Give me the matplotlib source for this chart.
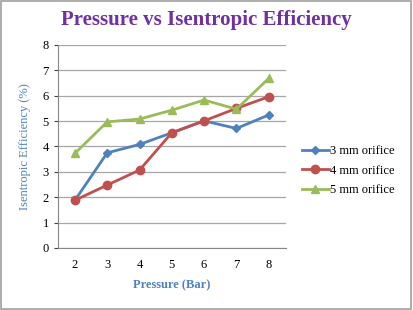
import matplotlib.pyplot as plt

plt.rcParams['font.family'] = ['Liberation Serif', 'DejaVu Serif']

pressure = [2, 3, 4, 5, 6, 7, 8]
eff_3mm = [1.88, 3.75, 4.08, 4.54, 5.01, 4.71, 5.24]
eff_4mm = [1.88, 2.48, 3.07, 4.54, 5.01, 5.50, 5.96]
eff_5mm = [3.73, 4.97, 5.08, 5.43, 5.83, 5.47, 6.68]
labels = ['3 mm orifice', '4 mm orifice', '5 mm orifice']

fig = plt.figure(figsize=(4.13, 3.10), dpi=100)
ax = fig.add_axes([0.140, 0.20, 0.552, 0.655])

ax.plot(pressure, eff_3mm, color='#4F81BD', marker='D', markersize=4, lw=2, label=labels[0])
ax.plot(pressure, eff_4mm, color='#C0504D', marker='o', markersize=6, lw=2, label=labels[1])
ax.plot(pressure, eff_5mm, color='#9BBB59', marker='^', markersize=6, lw=2, label=labels[2])

ax.set_xlim(1.47, 8.53)
ax.set_ylim(0, 8)
ax.set_xticks(pressure)
ax.set_yticks(range(0, 9))
ax.grid(axis='y', color='#A6A6A6', lw=0.9)
ax.set_axisbelow(True)
for s in ['top', 'right']:
    ax.spines[s].set_visible(False)
ax.spines['left'].set_color('#878787')
ax.spines['bottom'].set_color('#878787')
ax.tick_params(axis='both', labelsize=9, colors='#404040', length=3)
ax.tick_params(axis='x', length=0, pad=8)
for lab in ax.get_xticklabels() + ax.get_yticklabels():
    lab.set_color('black')

ax.set_xlabel('Pressure (Bar)', color='#4F81BD', fontsize=9, fontweight='bold', labelpad=6)
ax.set_ylabel('Isentropic Efficiency (%)', color='#4F81BD', fontsize=9, labelpad=8)

fig.text(0.5, 0.935, 'Pressure vs Isentropic Efficiency', color='#7030A0',
         fontsize=15, fontweight='bold', ha='center', va='center')

ax.legend(loc='center left', bbox_to_anchor=(1.02, 0.38), frameon=False,
          fontsize=9, handlelength=2.2, handletextpad=0.1, labelspacing=0.6)

fig.patches.append(plt.Rectangle((0.002, 0.003), 0.994, 0.994, transform=fig.transFigure,
                                 fill=False, edgecolor='#A0A0A0', lw=1.2))

fig.savefig('out.png', dpi=100)
